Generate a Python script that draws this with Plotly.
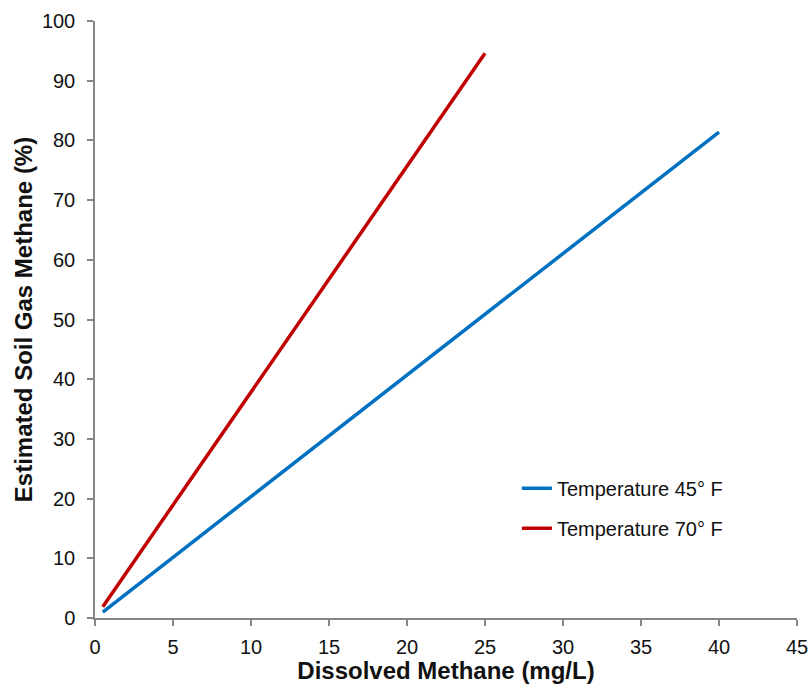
import plotly.graph_objects as go

# Data
x_45 = [0.5, 40]
y_45 = [1.0, 81.4]
x_70 = [0.5, 25]
y_70 = [1.9, 94.6]
series_names = ["Temperature 45° F", "Temperature 70° F"]
x_ticks = [0, 5, 10, 15, 20, 25, 30, 35, 40, 45]
y_ticks = [0, 10, 20, 30, 40, 50, 60, 70, 80, 90, 100]

FONT = "Liberation Sans, Arial, sans-serif"
AXIS_COLOR = "#868686"
TXT = "#111111"

fig = go.Figure()
fig.add_trace(go.Scatter(x=x_45, y=y_45, mode="lines", name=series_names[0],
                         legendgroup="a",
                         line=dict(color="#0070C0", width=3.5)))
fig.add_trace(go.Scatter(x=x_70, y=y_70, mode="lines", name=series_names[1],
                         legendgroup="b",
                         line=dict(color="#C00000", width=3.5)))

fig.update_layout(
    width=809, height=684,
    margin=dict(l=95, r=12, t=21, b=66, autoexpand=False),
    paper_bgcolor="white", plot_bgcolor="white",
    font=dict(family=FONT, size=20, color=TXT),
    legend=dict(x=0.601, y=0.25, xanchor="left", yanchor="top",
                traceorder="grouped", tracegroupgap=11,
                font=dict(family=FONT, size=20, color=TXT),
                bgcolor="rgba(0,0,0,0)"),
    xaxis=dict(range=[0, 45], tickvals=x_ticks, showgrid=False, zeroline=False,
               automargin=False,
               showline=True, linecolor=AXIS_COLOR, linewidth=1.5,
               ticks="outside", ticklen=6, tickcolor=AXIS_COLOR, tickwidth=1.5,
               ticklabelstandoff=4,
               tickfont=dict(size=20, color=TXT),
               title=dict(text="<b>Dissolved Methane (mg/L)</b>",
                          font=dict(size=24, color=TXT), standoff=9)),
    yaxis=dict(range=[0, 100], tickvals=y_ticks, showgrid=False, zeroline=False,
               automargin=False,
               showline=True, linecolor=AXIS_COLOR, linewidth=1.5,
               ticks="outside", ticklen=6, tickcolor=AXIS_COLOR, tickwidth=1.5,
               ticklabelstandoff=8,
               tickfont=dict(size=20, color=TXT),
               title=dict(text="<b>Estimated Soil Gas Methane (%)</b>",
                          font=dict(size=24, color=TXT), standoff=2)),
)

fig.write_html(
    "out.html",
    config={"displayModeBar": False},
    post_script="document.body.style.margin='0';document.body.style.overflow='hidden';",
)
